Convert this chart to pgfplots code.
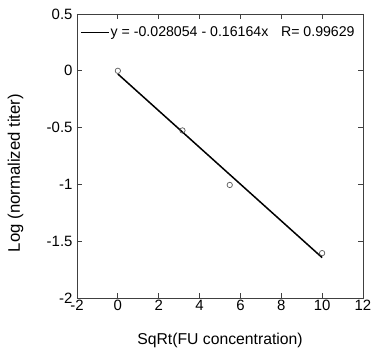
\documentclass[border=0pt]{standalone}
\usepackage{pgfplots}
\pgfplotsset{compat=1.18}
\usepackage{fontspec}
\setmainfont{Liberation Sans}
\begin{document}
\begin{tikzpicture}
\begin{axis}[
  scale only axis,
  width=286bp, height=284bp,
  xmin=-2, xmax=12, ymin=-2, ymax=0.5,
  xtick={-2,0,...,12}, ytick={-2,-1.5,-1,-0.5,0,0.5},
  yticklabels={-2,-1.5,-1,-0.5,0,0.5},
  xticklabels={-2,0,2,4,6,8,10,12},
  tick align=inside, tick pos=both,
  major tick length=5bp,
  axis line style={black!75, line width=0.8bp},
  tick style={black!75, line width=0.8bp},
  tick label style={font=\fontsize{15}{17}\selectfont},
  xticklabel style={yshift=1bp},
  yticklabel style={xshift=-1bp},
  xlabel={SqRt(FU concentration)},
  ylabel={Log (normalized titer)},
  xlabel style={font=\fontsize{15.8}{18}\selectfont, at={(axis description cs:0.5,-0.148)}, anchor=center},
  ylabel style={font=\fontsize{16.8}{19}\selectfont, at={(axis description cs:-0.215,0.44)}, anchor=center},
  legend style={draw=none, fill=none, at={(axis description cs:0.0105,0.935)}, anchor=west,
    font=\fontsize{14.2}{16}\selectfont, inner xsep=0bp, inner ysep=0bp,
    /tikz/every even column/.append style={column sep=0bp}},
  legend cell align=left,
  legend image code/.code={\draw[line width=1.5bp] (0bp,0bp) -- (28bp,0bp);},
]
\addplot[black, line width=1.5bp] coordinates {(0,-0.028054) (10,-1.644454)};
\addlegendentry{\hspace{-1bp}y = -0.028054 - 0.16164x\hspace{12.7bp}R= 0.99629}
\addplot[only marks, mark=o, mark size=2.7bp, black!65, mark options={line width=0.7bp}, forget plot]
  coordinates {(0,0) (3.162,-0.525) (5.477,-1.005) (10,-1.605)};
\end{axis}
\pgfresetboundingbox
\path ([shift={(-77bp,-57bp)}]current axis.south west) rectangle ([shift={(14bp,14bp)}]current axis.north east);
\end{tikzpicture}
\end{document}
